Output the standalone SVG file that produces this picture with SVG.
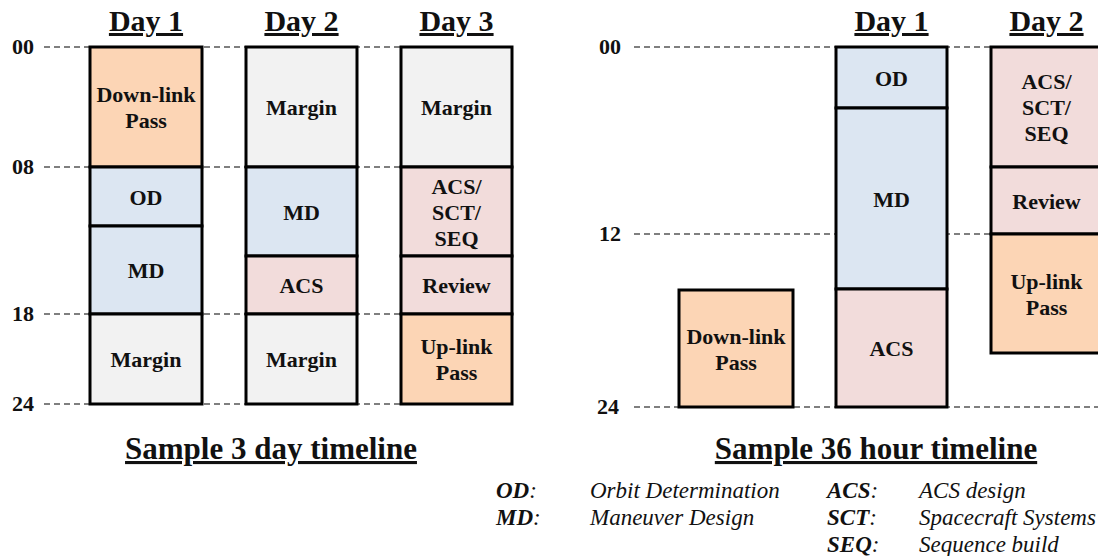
<svg xmlns="http://www.w3.org/2000/svg" width="1098" height="556" viewBox="0 0 1098 556" font-family="Liberation Serif, serif">
<style>
.seg{stroke:#000;stroke-width:3}
.peach{fill:#FCD5B5}
.blue{fill:#DCE6F2}
.pink{fill:#F2DCDB}
.grey{fill:#F2F2F2}
.lbl{font-family:"Liberation Serif",serif;font-weight:bold;font-size:22px;fill:#111;text-anchor:middle}
.ax{font-family:"Liberation Serif",serif;font-weight:bold;font-size:22px;fill:#111}
.day{font-family:"Liberation Serif",serif;font-weight:bold;font-size:30px;fill:#111;text-anchor:middle;text-decoration:underline}
.title{font-family:"Liberation Serif",serif;font-weight:bold;font-size:31px;fill:#111;text-anchor:middle;text-decoration:underline}
.leg{font-family:"Liberation Serif",serif;font-style:italic;font-size:23px;fill:#111}
.legk{font-weight:bold}
.dash{stroke:#555;stroke-width:1.3;stroke-dasharray:6 4;fill:none}
</style>
<g id="gridlines">
<line class="dash" x1="44" y1="47" x2="401" y2="47"/>
<line class="dash" x1="44" y1="167" x2="401" y2="167"/>
<line class="dash" x1="44" y1="314" x2="401" y2="314"/>
<line class="dash" x1="44" y1="404" x2="401" y2="404"/>
<line class="dash" x1="634" y1="47" x2="991" y2="47"/>
<line class="dash" x1="634" y1="234" x2="991" y2="234"/>
<line class="dash" x1="634" y1="407" x2="1098" y2="407"/>
</g>
<g id="axis-labels">
<text class="ax" x="12" y="54">00</text>
<text class="ax" x="12" y="174">08</text>
<text class="ax" x="12" y="321">18</text>
<text class="ax" x="12" y="411">24</text>
<text class="ax" x="599" y="54">00</text>
<text class="ax" x="599" y="241">12</text>
<text class="ax" x="597" y="414">24</text>
</g>
<g id="day-headers">
<text class="day" x="146" y="31">Day 1</text>
<text class="day" x="301.5" y="31">Day 2</text>
<text class="day" x="456.5" y="31">Day 3</text>
<text class="day" x="891.5" y="31">Day 1</text>
<text class="day" x="1046.5" y="31">Day 2</text>
</g>
<g id="l-d1-downlink"><rect class="seg peach" x="90" y="47" width="112" height="120"/><text class="lbl" x="146" y="102">Down-link</text><text class="lbl" x="146" y="128">Pass</text></g>
<g id="l-d1-od"><rect class="seg blue" x="90" y="167" width="112" height="59"/><text class="lbl" x="146" y="204.5">OD</text></g>
<g id="l-d1-md"><rect class="seg blue" x="90" y="226" width="112" height="88"/><text class="lbl" x="146" y="278">MD</text></g>
<g id="l-d1-margin"><rect class="seg grey" x="90" y="314" width="112" height="90"/><text class="lbl" x="146" y="367">Margin</text></g>
<g id="l-d2-margin1"><rect class="seg grey" x="246" y="47" width="111" height="120"/><text class="lbl" x="301.5" y="115">Margin</text></g>
<g id="l-d2-md"><rect class="seg blue" x="246" y="167" width="111" height="89"/><text class="lbl" x="301.5" y="219.5">MD</text></g>
<g id="l-d2-acs"><rect class="seg pink" x="246" y="256" width="111" height="58"/><text class="lbl" x="301.5" y="293">ACS</text></g>
<g id="l-d2-margin2"><rect class="seg grey" x="246" y="314" width="111" height="90"/><text class="lbl" x="301.5" y="367">Margin</text></g>
<g id="l-d3-margin"><rect class="seg grey" x="401" y="47" width="111" height="120"/><text class="lbl" x="456.5" y="115">Margin</text></g>
<g id="l-d3-acs"><rect class="seg pink" x="401" y="167" width="111" height="89"/><text class="lbl" x="456.5" y="193.5">ACS/</text><text class="lbl" x="456.5" y="219.5">SCT/</text><text class="lbl" x="456.5" y="245.5">SEQ</text></g>
<g id="l-d3-review"><rect class="seg pink" x="401" y="256" width="111" height="58"/><text class="lbl" x="456.5" y="293">Review</text></g>
<g id="l-d3-uplink"><rect class="seg peach" x="401" y="314" width="111" height="90"/><text class="lbl" x="456.5" y="354">Up-link</text><text class="lbl" x="456.5" y="380">Pass</text></g>
<g id="r-downlink"><rect class="seg peach" x="679" y="290" width="114" height="117"/><text class="lbl" x="736" y="343.5">Down-link</text><text class="lbl" x="736" y="369.5">Pass</text></g>
<g id="r-d1-od"><rect class="seg blue" x="836" y="47" width="111" height="61"/><text class="lbl" x="891.5" y="85.5">OD</text></g>
<g id="r-d1-md"><rect class="seg blue" x="836" y="108" width="111" height="181"/><text class="lbl" x="891.5" y="206.5">MD</text></g>
<g id="r-d1-acs"><rect class="seg pink" x="836" y="289" width="111" height="118"/><text class="lbl" x="891.5" y="356">ACS</text></g>
<g id="r-d2-acs"><rect class="seg pink" x="991" y="47" width="111" height="120"/><text class="lbl" x="1046.5" y="89">ACS/</text><text class="lbl" x="1046.5" y="115">SCT/</text><text class="lbl" x="1046.5" y="141">SEQ</text></g>
<g id="r-d2-review"><rect class="seg pink" x="991" y="167" width="111" height="67"/><text class="lbl" x="1046.5" y="208.5">Review</text></g>
<g id="r-d2-uplink"><rect class="seg peach" x="991" y="234" width="111" height="119"/><text class="lbl" x="1046.5" y="288.5">Up-link</text><text class="lbl" x="1046.5" y="314.5">Pass</text></g>
<g id="titles">
<text class="title" x="271" y="459">Sample 3 day timeline</text>
<text class="title" x="876" y="459">Sample 36 hour timeline</text>
</g>
<g id="legend">
<text class="leg" x="496" y="498"><tspan class="legk">OD</tspan>:</text>
<text class="leg" x="590" y="498">Orbit Determination</text>
<text class="leg" x="496" y="525"><tspan class="legk">MD</tspan>:</text>
<text class="leg" x="590" y="525">Maneuver Design</text>
<text class="leg" x="827" y="498"><tspan class="legk">ACS</tspan>:</text>
<text class="leg" x="919" y="498">ACS design</text>
<text class="leg" x="827" y="525"><tspan class="legk">SCT</tspan>:</text>
<text class="leg" x="919" y="525">Spacecraft Systems</text>
<text class="leg" x="827" y="552"><tspan class="legk">SEQ</tspan>:</text>
<text class="leg" x="919" y="552">Sequence build</text>
</g>
</svg>
